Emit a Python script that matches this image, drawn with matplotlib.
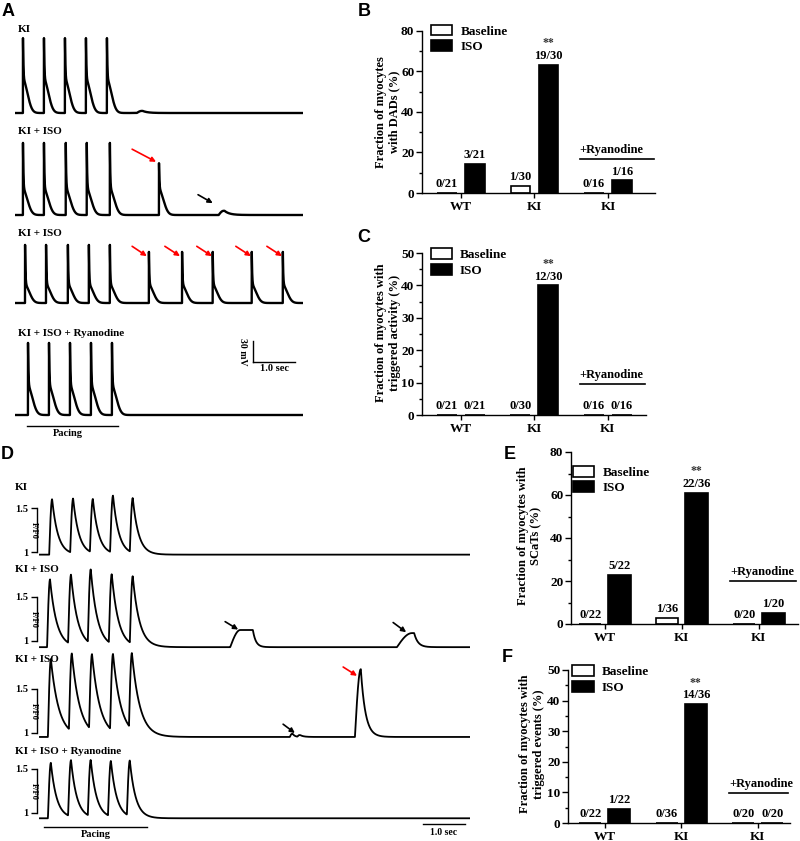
import matplotlib
matplotlib.use("Agg")
import matplotlib.pyplot as plt
from matplotlib.patches import Patch
import numpy as np

W, H = 800, 841
plt.rcParams["font.family"] = ["Liberation Serif", "DejaVu Serif"]
plt.rcParams["font.weight"] = "bold"
plt.rcParams["axes.linewidth"] = 1.0

# ---------------- panel A: membrane potential (mV above rest, s) ----------------
A_LABELS = ["KI", "KI + ISO", "KI + ISO", "KI + ISO + Ryanodine"]
A_PACED = [
    [0.19, 0.69, 1.19, 1.69, 2.19],
    [0.19, 0.69, 1.21, 1.71, 2.26],
    [0.24, 0.74, 1.26, 1.76, 2.26],
    [0.31, 0.81, 1.31, 1.81, 2.31],
]
A_PACED_AMP = [107, 103, 83, 103]
A_SHOULDER = [47, 36, 25, 40]
A_TRIG = [[], [3.43], [3.19, 3.98, 4.71, 5.64, 6.38], []]
A_TRIG_AMP = [0, 74, 73, 0]
A_DAD_T = [[2.9], [4.85], [], []]
A_DAD_AMP = [[3], [6], [], []]
A_REST = -80
# arrows: (tail_t, tail_mV, tip_t, tip_mV, colour)
A_ARROWS = [
    [],
    [(2.79, 14, 3.36, -4, "red"), (4.36, -51, 4.71, -63, "black")],
    [(2.79, 1, 3.14, -13, "red"), (3.57, 1, 3.93, -13, "red"), (4.33, 1, 4.69, -13, "red"),
     (5.26, 1, 5.62, -13, "red"), (6.00, 1, 6.36, -13, "red")],
    [],
]

# ---------------- panel D: Ca transients (F/F0, s) ----------------
D_LABELS = ["KI", "KI + ISO", "KI + ISO", "KI + ISO + Ryanodine"]
D_BASE = [0.97, 0.93, 0.955, 0.94]
D_PACED = [
    [0.29, 0.79, 1.26, 1.74, 2.21],
    [0.24, 0.74, 1.21, 1.71, 2.21],
    [0.26, 0.76, 1.24, 1.74, 2.19],
    [0.26, 0.74, 1.21, 1.69, 2.14],
]
D_PEAK = [
    [1.60, 1.59, 1.58, 1.62, 1.59],
    [1.70, 1.72, 1.77, 1.72, 1.70],
    [1.84, 1.84, 1.82, 1.83, 1.82],
    [1.57, 1.58, 1.58, 1.57, 1.57],
]
D_DECAY = [0.14, 0.16, 0.19, 0.14]
# spontaneous events: (t0, amplitude, rise, plateau, decay)
D_EVENTS = [
    [],
    [(4.60, 0.195, 0.24, 0.30, 0.07), (8.57, 0.16, 0.36, 0.05, 0.09)],
    [(6.02, 0.035, 0.05, 0.02, 0.05), (6.20, 0.02, 0.05, 0.02, 0.08), (7.57, 0.77, 0.14, 0.0, 0.11)],
    [],
]
D_ARROWS = [
    [],
    [(4.48, 1.22, 4.79, 1.13, "black"), (8.48, 1.21, 8.79, 1.10, "black")],
    [(5.86, 1.10, 6.14, 1.00, "black"), (7.29, 1.75, 7.62, 1.65, "red")],
    [],
]

# ---------------- bar panels ----------------
GROUPS = ["WT", "KI", "KI"]
B_BASE_N, B_ISO_N, B_TOTAL = [0, 1, 0], [3, 19, 1], [21, 30, 16]
C_BASE_N, C_ISO_N, C_TOTAL = [0, 0, 0], [0, 12, 0], [21, 30, 16]
E_BASE_N, E_ISO_N, E_TOTAL = [0, 1, 0], [5, 22, 1], [22, 36, 20]
F_BASE_N, F_ISO_N, F_TOTAL = [0, 0, 0], [1, 14, 0], [22, 36, 20]

fig = plt.figure(figsize=(8, 8.41), dpi=100)


def px_axes(left, top, right, bottom):
    return fig.add_axes([left / W, 1 - bottom / H, (right - left) / W, (bottom - top) / H])


def spike(t, t0, amp, shoulder, width):
    dt = t - t0
    out = np.zeros_like(t)
    m = dt >= 0
    out[m] = (amp - shoulder) * np.exp(-dt[m] / 0.01) + shoulder * np.exp(-(dt[m] / width) ** 2)
    return out


def wave(t, t0, amp, rise, plateau, decay):
    dt = t - t0
    out = np.zeros_like(t)
    up = (dt >= 0) & (dt < rise)
    out[up] = amp * np.sin(0.5 * np.pi * dt[up] / rise)
    flat = (dt >= rise) & (dt < rise + plateau)
    out[flat] = amp
    down = dt >= rise + plateau
    out[down] = amp * np.exp(-(dt[down] - rise - plateau) / decay)
    return out


def arrow(ax, spec):
    x0, y0, x1, y1, c = spec
    ax.annotate("", xy=(x1, y1), xytext=(x0, y0),
                arrowprops=dict(arrowstyle="-|>", color=c, lw=1.2, mutation_scale=7,
                                shrinkA=0, shrinkB=0))


def label(x, y, s, **kw):
    fig.text(x / W, 1 - y / H, s, **kw)


# ---- A traces ----
a_base_px = [113, 215, 303, 415]
a_label_px = [30, 132, 234, 333]
t = np.arange(0, 6.86, 0.002)
for i in range(4):
    ax = px_axes(15, a_base_px[i] - 84, 303, a_base_px[i] + 8.4)
    ax.set_xlim(0, 6.86)
    ax.set_ylim(-92, 40)
    ax.axis("off")
    v = np.full_like(t, A_REST, dtype=float)
    for t0 in A_PACED[i]:
        v += spike(t, t0, A_PACED_AMP[i], A_SHOULDER[i], 0.15)
    for t0 in A_TRIG[i]:
        v += spike(t, t0, A_TRIG_AMP[i], A_SHOULDER[i], 0.15)
    for t0, a in zip(A_DAD_T[i], A_DAD_AMP[i]):
        v += wave(t, t0, a, 0.12, 0.02, 0.12)
    ax.plot(t, v, color="black", lw=1.7)
    for spec in A_ARROWS[i]:
        arrow(ax, spec)
    label(18, a_label_px[i], A_LABELS[i], fontsize=8, ha="left", va="center")
    if i == 3:
        ax.plot([5.67, 5.67], [-4, 26], color="black", lw=1.0, clip_on=False)
        ax.plot([5.67, 6.67], [-4, -4], color="black", lw=1.0, clip_on=False)
        ax.text(5.42, 11, "30 mV", rotation=270, fontsize=7, ha="center", va="center")
        ax.text(6.17, -7, "1.0 sec", fontsize=7.5, ha="center", va="top")
        ax.plot([0.29, 2.45], [-95.7, -95.7], color="black", lw=1.0, clip_on=False)
        ax.text(1.26, -107, "Pacing", fontsize=7.5, ha="center", va="center")

# ---- D traces ----
d_tick1_px = [552, 641, 733, 813]
d_label_px = [487, 569, 660, 751]
td = np.arange(0.07, 10.31, 0.004)
for i in range(4):
    ax = px_axes(37, d_tick1_px[i] - 88, 470, d_tick1_px[i] + 13.2)
    ax.set_xlim(0, 10.31)
    ax.set_ylim(0.85, 2.0)
    for s in ["top", "right", "bottom"]:
        ax.spines[s].set_visible(False)
    ax.spines["left"].set_bounds(1, 1.5)
    ax.set_xticks([])
    ax.set_yticks([1, 1.5])
    ax.set_yticklabels(["1", "1.5"])
    ax.tick_params(axis="y", length=4.5, width=1.0, pad=1.5, labelsize=7.5)
    ax.patch.set_alpha(0)
    f = np.full_like(td, D_BASE[i], dtype=float)
    for t0, pk in zip(D_PACED[i], D_PEAK[i]):
        f += wave(td, t0, pk - D_BASE[i], 0.07, 0.0, D_DECAY[i])
    for t0, a, r, p, d in D_EVENTS[i]:
        f += wave(td, t0, a, r, p, d)
    ax.plot(td, f, color="black", lw=1.3)
    ax.text(-0.08, 1.25, "F/F0", rotation=270, fontsize=6, ha="center", va="center")
    for spec in D_ARROWS[i]:
        arrow(ax, spec)
    label(15, d_label_px[i], D_LABELS[i], fontsize=8, ha="left", va="center")
    if i == 3:
        ax.plot([0.17, 2.62], [0.84, 0.84], color="black", lw=1.0, clip_on=False)
        ax.text(1.4, 0.76, "Pacing", fontsize=7.5, ha="center", va="center")
        ax.plot([9.19, 10.19], [0.875, 0.875], color="black", lw=1.0, clip_on=False)
        ax.text(9.69, 0.78, "1.0 sec", fontsize=7, ha="center", va="center")


# ---- bar panels ----
def bar_panel(rect, xlim, width, ymax, ystep, base_n, iso_n, total, ryan_y, leg_xy, ylabel, ylab_px):
    ax = px_axes(*rect)
    x = np.arange(len(GROUPS))
    base = 100 * np.array(base_n) / np.array(total)
    iso = 100 * np.array(iso_n) / np.array(total)
    off = 0.19
    ax.bar(x - off, base, width, color="white", edgecolor="black", lw=1.2)
    ax.bar(x + off, iso, width, color="black", edgecolor="black", lw=1.2)
    for xi, h, n, tt in zip(x - off, base, base_n, total):
        ax.annotate(f"{n}/{tt}", (xi, h), xytext=(0, 2), textcoords="offset points",
                    ha="center", va="bottom", fontsize=9)
    for xi, h, n, tt in zip(x + off, iso, iso_n, total):
        ax.annotate(f"{n}/{tt}", (xi, h), xytext=(0, 2), textcoords="offset points",
                    ha="center", va="bottom", fontsize=9)
    ax.annotate("**", (x[1] + off, iso[1]), xytext=(0, 11), textcoords="offset points",
                ha="center", va="bottom", fontsize=8.5, color="#333333")
    ax.set_xlim(*xlim)
    ax.set_ylim(0, ymax)
    ax.set_yticks(np.arange(0, ymax + 1, ystep))
    ax.set_yticks(np.arange(ystep / 2, ymax, ystep), minor=True)
    ax.set_xticks(x)
    ax.set_xticklabels(GROUPS, fontsize=9.5)
    ax.tick_params(axis="y", which="major", length=4, width=1.0, pad=1.5, labelsize=9.5)
    ax.tick_params(axis="y", which="minor", length=2.5, width=1.0)
    ax.tick_params(axis="x", length=3.5, width=1.0, pad=2)
    for s in ["top", "right"]:
        ax.spines[s].set_visible(False)
    ax.plot([1.62, xlim[1] - 0.02], [ryan_y, ryan_y], color="black", lw=1.2, clip_on=False)
    ax.annotate("+Ryanodine", (2.05, ryan_y), xytext=(0, 2), textcoords="offset points",
                ha="center", va="bottom", fontsize=9)
    handles = [Patch(facecolor="white", edgecolor="black", lw=1.2),
               Patch(facecolor="black", edgecolor="black", lw=1.2)]
    ax.legend(handles, ["Baseline", "ISO"], loc="upper left", bbox_to_anchor=leg_xy,
              frameon=False, fontsize=9.5, handlelength=1.6, handleheight=0.9,
              handletextpad=0.6, labelspacing=0.2, borderpad=0, borderaxespad=0)
    label(ylab_px[0], ylab_px[1], ylabel, fontsize=9, rotation=90, ha="center", va="center",
          multialignment="center", linespacing=1.15)
    return ax


bar_panel((422, 31, 655, 193), (-0.53, 2.64), 0.27, 80, 20, B_BASE_N, B_ISO_N, B_TOTAL,
          17, (0.04, 1.04), "Fraction of myocytes\nwith DADs (%)", (388, 112))
bar_panel((422, 253, 646, 415), (-0.53, 2.52), 0.27, 50, 10, C_BASE_N, C_ISO_N, C_TOTAL,
          9.6, (0.04, 1.03), "Fraction of myocytes with\ntriggered activity (%)", (388, 333))
bar_panel((571, 452, 798, 624), (-0.44, 2.51), 0.29, 80, 20, E_BASE_N, E_ISO_N, E_TOTAL,
          20, (0.01, 0.92), "Fraction of myocytes with\nSCaTs (%)", (530, 536))
bar_panel((568, 670, 790, 823), (-0.48, 2.42), 0.29, 50, 10, F_BASE_N, F_ISO_N, F_TOTAL,
          9.8, (0.02, 1.03), "Fraction of myocytes with\ntriggered events (%)", (532, 744))

# panel letters
for s, (px, py) in zip("ABCDEF", [(8, 12), (364, 11), (364, 237), (7, 455), (510, 455), (507, 658)]):
    label(px, py, s, fontsize=13, family="Liberation Sans", weight="bold", ha="center", va="center")

fig.savefig("out.png", dpi=100)
